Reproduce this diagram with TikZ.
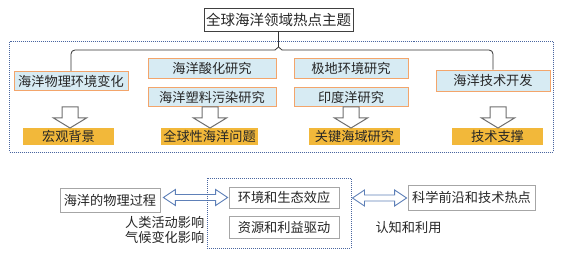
\documentclass[tikz,border=0pt]{standalone}
\usepackage{fontspec}
\newfontfamily\cjk{Noto Sans CJK SC}
\usetikzlibrary{calc}
\definecolor{boxblue}{HTML}{D7EBF3}
\definecolor{boxorange}{HTML}{F3A56B}
\definecolor{goldfill}{HTML}{F2B83A}
\definecolor{dotblue}{HTML}{4A66A0}
\definecolor{arrgray}{HTML}{6E6E6E}
\definecolor{arrblue}{HTML}{5E80B8}
\definecolor{framegray}{HTML}{A6A6A6}
\newcommand\hollowdown[1]{\draw[hollow] (#1) -- ++(16.5,-10) -- ++(-8.5,0) -- ++(0,-11) -- ++(-16,0) -- ++(0,11) -- ++(-8.5,0) -- cycle;}
\newcommand\dblarrow[2]{\draw[dbl] let \p1=(#1), \p2=(#2) in (\x1,\y1) -- (\x1+12pt,\y1+8pt) -- (\x1+12pt,\y1+3pt) -- (\x2-12pt,\y1+3pt) -- (\x2-12pt,\y1+8pt) -- (\x2,\y1) -- (\x2-12pt,\y1-8pt) -- (\x2-12pt,\y1-3pt) -- (\x1+12pt,\y1-3pt) -- (\x1+12pt,\y1-8pt) -- cycle;}
\begin{document}
\begin{tikzpicture}[x=1pt,y=-1pt,
  every node/.style={font=\cjk\fontsize{13.2}{15}\selectfont, text=black!85, inner sep=0pt},
  bluebox/.style={draw=boxorange, fill=boxblue, line width=0.9pt, minimum height=19.5pt},
  goldbox/.style={fill=goldfill, minimum height=17pt},
  graybox/.style={draw=framegray, line width=0.8pt, fill=white},
  dotframe/.style={draw=dotblue, densely dotted, line width=1pt},
  hollow/.style={draw=arrgray, fill=white, line width=1pt, line join=miter},
  dbl/.style={draw=arrblue, fill=white, line width=0.9pt},
  brace/.style={draw=black!80, line width=0.8pt, rounded corners=4pt},
]
\useasboundingbox (0,0) rectangle (563,254);
% upper frame
\draw[dotframe] (9.5,42) rectangle (553,152);
% title
\node[draw=black!75, line width=0.8pt, minimum width=149pt, minimum height=23pt, font=\cjk\fontsize{14.5}{17}\selectfont] (title) at (278.5,19.5) {全球海洋领域热点主题};
% blue boxes
\node[bluebox, minimum width=114pt] (b1) at (71,81) {海洋物理环境变化};
\node[bluebox, minimum width=128pt] (b2) at (212,68.5) {海洋酸化研究};
\node[bluebox, minimum width=128pt] (b3) at (212,97) {海洋塑料污染研究};
\node[bluebox, minimum width=114pt] (b4) at (351,68.5) {极地环境研究};
\node[bluebox, minimum width=114pt] (b5) at (351,97) {印度洋研究};
\node[bluebox, minimum width=114pt, minimum height=21pt] (b6) at (493,80.5) {海洋技术开发};
% gold boxes
\node[goldbox, minimum width=91pt] (y1) at (68.5,136.5) {宏观背景};
\node[goldbox, minimum width=97pt] (y2) at (209.5,136.5) {全球性海洋问题};
\node[goldbox, minimum width=91pt] (y3) at (354.5,136.5) {关键海域研究};
\node[goldbox, minimum width=91pt] (y4) at (497.5,136.5) {技术支撑};
% brace
\coordinate (mid) at (title.south |- 0,50);
\draw[brace] (b1.north) |- ($(mid)+(-3.5,0)$);
\draw[brace] (b6.north) |- ($(mid)+(3.5,0)$);
\draw[line width=0.8pt, draw=black!80] ($(mid)+(-3.5,0)$) -- ($(mid)+(0,-3)$) -- ($(mid)+(3.5,0)$);
\draw[line width=0.8pt, draw=black!80] (title.south) -- ($(mid)+(0,-3)$);
% hollow down arrows
\coordinate (t1) at (70,128);
\coordinate (t2) at (210,128);
\coordinate (t3) at (351,128);
\coordinate (t4) at (498,128);
\hollowdown{t1}
\hollowdown{t2}
\hollowdown{t3}
\hollowdown{t4}
% lower part
\node[graybox, minimum width=100pt, minimum height=24pt] (p1) at (110,200) {海洋的物理过程};
\node[graybox, minimum width=110pt, minimum height=21pt] (e1) at (284,197.5) {环境和生态效应};
\node[graybox, minimum width=110pt, minimum height=22pt] (e2) at (284,227) {资源和利益驱动};
\node[graybox, minimum width=127pt, minimum height=25pt] (sci) at (471.5,197.5) {科学前沿和技术热点};
\coordinate (a1s) at ($(p1.east |- e1.west)+(3,0)$);
\coordinate (a1e) at ($(e1.west)+(-1,0)$);
\dblarrow{a1s}{a1e}
\node[dotframe, minimum width=144pt, minimum height=70pt] (lower) at (279,213) {};
\coordinate (a2s) at ($(lower.east |- e1.west)+(1,0.5)$);
\coordinate (a2e) at ($(sci.west |- e1.west)+(-1,0.5)$);
\dblarrow{a2s}{a2e}
\node[anchor=east, align=right] (impact) at (204.5,229.5) {人类活动影响\\气候变化影响};
\node (use) at (408.5,228) {认知和利用};
\end{tikzpicture}
\end{document}
